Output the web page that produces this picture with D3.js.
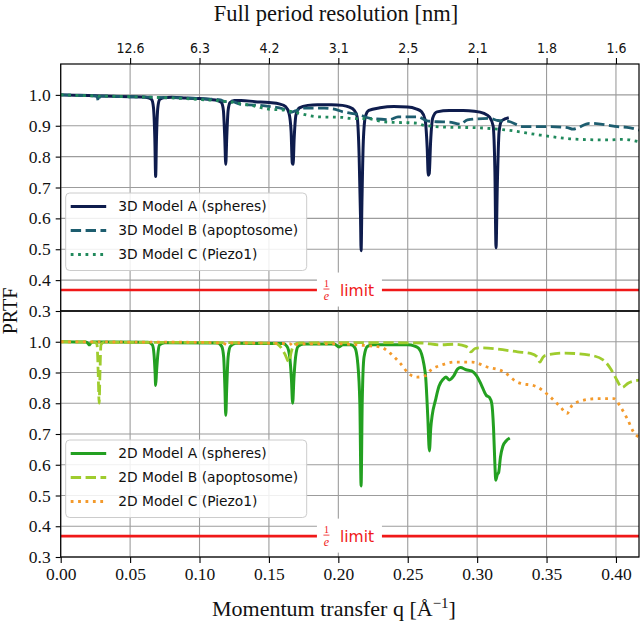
<!DOCTYPE html>
<html><head><meta charset="utf-8">
<script src="https://cdn.jsdelivr.net/npm/d3@7"></script>
<style>body{margin:0;background:#fff} svg{display:block}</style>
</head><body>
<svg id="c" width="640" height="625"></svg>
<script>
// ---------- data ----------
const xTicks = [0.00, 0.05, 0.10, 0.15, 0.20, 0.25, 0.30, 0.35, 0.40];
const xTickLabels = ["0.00","0.05","0.10","0.15","0.20","0.25","0.30","0.35","0.40"];
const topTicks = [0.05, 0.10, 0.15, 0.20, 0.25, 0.30, 0.35, 0.40];
const topTickLabels = ["12.6","6.3","4.2","3.1","2.5","2.1","1.8","1.6"];
const yTicks = [0.3, 0.4, 0.5, 0.6, 0.7, 0.8, 0.9, 1.0];
const yTickLabels = ["0.3","0.4","0.5","0.6","0.7","0.8","0.9","1.0"];
const xDomain = [0, 0.4166];
const yDomain = [0.3, 1.1];
const limitValue = 0.3679;   // 1/e
const names3D = ["3D Model A (spheres)", "3D Model B (apoptosome)", "3D Model C (Piezo1)"];
const names2D = ["2D Model A (spheres)", "2D Model B (apoptosome)", "2D Model C (Piezo1)"];

const q3A = [[0.000,1.000],[0.010,0.999],[0.020,0.998],[0.030,0.996],[0.040,0.995],[0.050,0.994],[0.058,0.993],[0.063,0.991],[0.0655,0.985],[0.0668,0.96],[0.0678,0.86],[0.0684,0.736],[0.0690,0.86],[0.0700,0.96],[0.0713,0.985],[0.074,0.991],[0.080,0.992],[0.090,0.990],[0.100,0.988],[0.108,0.985],[0.113,0.982],[0.1158,0.975],[0.1172,0.95],[0.1182,0.86],[0.1189,0.775],[0.1196,0.86],[0.1206,0.95],[0.1220,0.975],[0.125,0.982],[0.130,0.982],[0.140,0.978],[0.150,0.975],[0.158,0.970],[0.162,0.962],[0.1645,0.94],[0.1660,0.88],[0.1668,0.78],[0.1674,0.775],[0.1682,0.86],[0.1695,0.935],[0.172,0.958],[0.178,0.966],[0.185,0.968],[0.195,0.968],[0.203,0.966],[0.208,0.960],[0.2115,0.95],[0.2135,0.93],[0.2150,0.80],[0.2160,0.60],[0.2164,0.495],[0.2170,0.65],[0.2180,0.85],[0.2195,0.93],[0.222,0.950],[0.230,0.958],[0.240,0.962],[0.250,0.961],[0.256,0.955],[0.260,0.945],[0.2625,0.92],[0.2640,0.83],[0.2648,0.74],[0.2655,0.745],[0.2665,0.85],[0.2680,0.925],[0.271,0.945],[0.280,0.949],[0.290,0.949],[0.298,0.947],[0.305,0.940],[0.309,0.928],[0.3115,0.90],[0.3128,0.75],[0.3136,0.505],[0.3145,0.70],[0.3158,0.88],[0.3175,0.915],[0.320,0.922],[0.3228,0.926]];
const q3B = [[0.000,1.000],[0.015,0.998],[0.025,0.997],[0.0265,0.99],[0.0271,0.978],[0.0277,0.99],[0.029,0.996],[0.050,0.994],[0.080,0.991],[0.100,0.988],[0.115,0.984],[0.118,0.978],[0.122,0.980],[0.131,0.968],[0.140,0.967],[0.151,0.962],[0.160,0.955],[0.1655,0.943],[0.169,0.948],[0.175,0.957],[0.190,0.957],[0.196,0.955],[0.2035,0.945],[0.2157,0.935],[0.223,0.924],[0.237,0.920],[0.243,0.929],[0.257,0.929],[0.2640,0.916],[0.271,0.913],[0.280,0.912],[0.288,0.905],[0.293,0.919],[0.309,0.924],[0.315,0.917],[0.322,0.915],[0.333,0.897],[0.353,0.897],[0.365,0.894],[0.369,0.889],[0.381,0.908],[0.394,0.902],[0.401,0.897],[0.408,0.895],[0.4166,0.886]];
const q3C = [[0.000,1.000],[0.020,0.997],[0.050,0.994],[0.080,0.990],[0.100,0.985],[0.116,0.980],[0.136,0.967],[0.151,0.953],[0.160,0.951],[0.172,0.940],[0.185,0.929],[0.203,0.927],[0.208,0.924],[0.223,0.922],[0.232,0.913],[0.257,0.908],[0.261,0.902],[0.280,0.895],[0.297,0.894],[0.3216,0.886],[0.345,0.870],[0.362,0.860],[0.369,0.857],[0.394,0.854],[0.405,0.856],[0.4166,0.848]];

const q2A = [[0.000,1.000],[0.018,0.999],[0.0200,0.993],[0.0206,0.99],[0.0212,0.993],[0.023,0.999],[0.063,0.998],[0.0660,0.99],[0.0672,0.96],[0.0680,0.90],[0.0684,0.858],[0.0690,0.90],[0.0700,0.96],[0.0712,0.99],[0.075,0.997],[0.113,0.996],[0.1160,0.985],[0.1174,0.95],[0.1183,0.85],[0.1189,0.761],[0.1196,0.85],[0.1206,0.95],[0.1222,0.985],[0.126,0.995],[0.160,0.994],[0.163,0.985],[0.1650,0.95],[0.1662,0.88],[0.1671,0.80],[0.1680,0.88],[0.1692,0.95],[0.171,0.985],[0.175,0.993],[0.197,0.993],[0.2005,0.983],[0.203,0.99],[0.209,0.99],[0.212,0.98],[0.2140,0.93],[0.2155,0.80],[0.2164,0.531],[0.2172,0.80],[0.2185,0.95],[0.221,0.985],[0.225,0.99],[0.240,0.99],[0.250,0.99],[0.255,0.986],[0.258,0.978],[0.260,0.96],[0.2615,0.93],[0.2630,0.88],[0.2645,0.75],[0.2656,0.645],[0.2666,0.72],[0.2676,0.76],[0.270,0.81],[0.2725,0.855],[0.2755,0.878],[0.2775,0.885],[0.2800,0.876],[0.2830,0.888],[0.2860,0.912],[0.2880,0.916],[0.2920,0.909],[0.2960,0.905],[0.2995,0.89],[0.3030,0.86],[0.3065,0.826],[0.3090,0.818],[0.3105,0.80],[0.3118,0.72],[0.3128,0.60],[0.3134,0.55],[0.3145,0.568],[0.3155,0.575],[0.3168,0.625],[0.3185,0.66],[0.3210,0.678],[0.3235,0.687]];
const q2B = [[0.000,1.000],[0.020,0.999],[0.025,0.998],[0.0262,0.99],[0.0270,0.90],[0.0277,0.80],[0.0283,0.90],[0.0290,0.99],[0.031,0.998],[0.080,0.998],[0.120,0.997],[0.155,0.995],[0.158,0.985],[0.1615,0.96],[0.1645,0.934],[0.1660,0.965],[0.168,0.99],[0.172,0.996],[0.200,0.997],[0.230,0.997],[0.260,0.996],[0.273,0.99],[0.2845,0.992],[0.292,0.985],[0.2955,0.967],[0.2985,0.978],[0.302,0.98],[0.3148,0.976],[0.3292,0.967],[0.3385,0.962],[0.3435,0.95],[0.3452,0.934],[0.3475,0.95],[0.3493,0.956],[0.3625,0.963],[0.3817,0.956],[0.391,0.94],[0.3965,0.91],[0.4007,0.875],[0.4043,0.851],[0.409,0.866],[0.4166,0.875]];
const q2C = [[0.000,1.000],[0.050,0.999],[0.100,0.998],[0.117,0.995],[0.120,0.99],[0.123,0.996],[0.165,0.994],[0.168,0.985],[0.171,0.993],[0.200,0.993],[0.2183,0.988],[0.2303,0.983],[0.2375,0.962],[0.2448,0.929],[0.2508,0.896],[0.2568,0.885],[0.2628,0.89],[0.2664,0.907],[0.2736,0.923],[0.2844,0.934],[0.2964,0.934],[0.3072,0.918],[0.3192,0.902],[0.3288,0.869],[0.3432,0.853],[0.3528,0.82],[0.3600,0.788],[0.3648,0.767],[0.3684,0.793],[0.3768,0.81],[0.3864,0.815],[0.3985,0.815],[0.4033,0.788],[0.4081,0.75],[0.4133,0.702],[0.4166,0.69]];

// ---------- layout ----------
const svg = d3.select("#c");
const L = 60.7, R = 639;
const panels = [
  {top: 64, bot: 311, series: [q3A, q3B, q3C], names: names3D,
   colors: ["#0e1c4d", "#1d5d6f", "#20895c"], legendTop: 193},
  {top: 311, bot: 557, series: [q2A, q2B, q2C], names: names2D,
   colors: ["#23a021", "#9fcc2e", "#f39a2c"], legendTop: 440}
];
const styles = [
  {w: 3.0, dash: null},
  {w: 2.8, dash: "10.4,4.5"},
  {w: 2.8, dash: "2.8,4.6"}
];
const x = d3.scaleLinear().domain(xDomain).range([L, R]);
const serif = "'Liberation Serif','Times New Roman',serif";
const sans = "'DejaVu Sans',sans-serif";
const gridColor = "#9c9c9c";

svg.append("rect").attr("width", 640).attr("height", 625).attr("fill", "#fff");

panels.forEach((p, pi) => {
  const y = d3.scaleLinear().domain(yDomain).range([p.bot, p.top]);
  const g = svg.append("g");
  const clipId = "clip" + pi;
  svg.append("clipPath").attr("id", clipId).append("rect")
    .attr("x", L).attr("y", p.top).attr("width", R - L).attr("height", p.bot - p.top);

  // grid
  g.selectAll(".vg").data(xTicks).join("line")
    .attr("x1", d => x(d)).attr("x2", d => x(d)).attr("y1", p.top).attr("y2", p.bot)
    .attr("stroke", gridColor).attr("stroke-width", 1.1);
  g.selectAll(".hg").data(yTicks).join("line")
    .attr("x1", L).attr("x2", R).attr("y1", d => y(d)).attr("y2", d => y(d))
    .attr("stroke", gridColor).attr("stroke-width", 1.1);

  // 1/e line
  g.append("line").attr("x1", L).attr("x2", R)
    .attr("y1", y(limitValue)).attr("y2", y(limitValue))
    .attr("stroke", "#f01818").attr("stroke-width", 2.6);

  // curves
  const line = d3.line().x(d => x(d[0])).y(d => y(d[1])).curve(d3.curveMonotoneX);
  const cg = g.append("g").attr("clip-path", `url(#${clipId})`);
  p.series.forEach((s, si) => {
    cg.append("path").datum(s).attr("d", line)
      .attr("fill", "none").attr("stroke", p.colors[si])
      .attr("stroke-width", styles[si].w)
      .attr("stroke-dasharray", styles[si].dash)
      .attr("stroke-linejoin", "round");
  });

  // 1/e label with white box
  const lx = x(0.208), ly = y(limitValue);
  const lab = g.append("g").attr("transform", `translate(${lx},${ly})`);
  lab.append("rect").attr("x", -32.5).attr("y", -17.5).attr("width", 65).attr("height", 34).attr("fill", "#fff");
  lab.append("text").attr("x", -23).attr("y", -3).attr("text-anchor", "middle")
    .attr("font-family", serif).attr("font-size", 10).attr("fill", "#f01818").text("1");
  lab.append("line").attr("x1", -26).attr("x2", -20).attr("y1", -1).attr("y2", -1)
    .attr("stroke", "#f01818").attr("stroke-width", 0.8);
  lab.append("text").attr("x", -23).attr("y", 10).attr("text-anchor", "middle")
    .attr("font-family", serif).attr("font-style", "italic").attr("font-size", 12).attr("fill", "#f01818").text("e");
  lab.append("text").attr("x", -9.5).attr("y", 6).attr("font-family", sans)
    .attr("font-size", 15.5).attr("fill", "#f01818").text("limit");

  // legend
  const lg = svg.append("g").attr("transform", `translate(65.7,${p.legendTop})`);
  lg.append("rect").attr("width", 241).attr("height", 77.5).attr("rx", 4)
    .attr("fill", "#fff").attr("fill-opacity", 0.85).attr("stroke", "#cccccc").attr("stroke-width", 1);
  p.names.forEach((n, i) => {
    const yy = 13.5 + i * 24;
    lg.append("line").attr("x1", 5).attr("x2", 40.5).attr("y1", yy).attr("y2", yy)
      .attr("stroke", p.colors[i]).attr("stroke-width", styles[i].w)
      .attr("stroke-dasharray", styles[i].dash);
    lg.append("text").attr("x", 52.5).attr("y", yy).attr("dy", "0.36em")
      .attr("font-family", sans).attr("font-size", 13.8).attr("fill", "#111").text(n);
  });

  // y axis
  const ya = svg.append("g").attr("transform", `translate(${L},0)`)
    .call(d3.axisLeft(y).tickValues(yTicks).tickFormat((d, i) => yTickLabels[i]).tickSize(5).tickPadding(5));
  ya.select(".domain").remove();
  ya.selectAll("line").attr("stroke", "#000").attr("stroke-width", 1.1);
  ya.selectAll("text").attr("font-family", serif).attr("font-size", 17.5).attr("fill", "#111");

  // frame
  svg.append("rect").attr("x", L).attr("y", p.top).attr("width", R - L).attr("height", p.bot - p.top)
    .attr("fill", "none").attr("stroke", "#000").attr("stroke-width", 1.2);
});

// top axis
const ta = svg.append("g").attr("transform", "translate(0,64)")
  .call(d3.axisTop(x).tickValues(topTicks).tickFormat((d, i) => topTickLabels[i]).tickSize(6).tickPadding(5));
ta.select(".domain").remove();
ta.selectAll("line").attr("stroke", "#000").attr("stroke-width", 1.1);
ta.selectAll("text").attr("font-family", "'DejaVu Sans Condensed','DejaVu Sans',sans-serif")
  .attr("font-stretch", "condensed").attr("font-size", 14).attr("fill", "#111");

// bottom axis
const ba = svg.append("g").attr("transform", "translate(0,557)")
  .call(d3.axisBottom(x).tickValues(xTicks).tickFormat((d, i) => xTickLabels[i]).tickSize(6).tickPadding(5));
ba.select(".domain").remove();
ba.selectAll("line").attr("stroke", "#000").attr("stroke-width", 1.1);
ba.selectAll("text").attr("font-family", serif).attr("font-size", 17.5).attr("fill", "#111");

// labels
svg.append("text").attr("x", 336).attr("y", 21).attr("text-anchor", "middle")
  .attr("font-family", serif).attr("font-size", 22.5).attr("fill", "#111").text("Full period resolution [nm]");
const xl = svg.append("text").attr("x", 334).attr("y", 616).attr("text-anchor", "middle")
  .attr("font-family", serif).attr("font-size", 22).attr("fill", "#111");
xl.append("tspan").text("Momentum transfer q [Å");
xl.append("tspan").attr("dy", -8).attr("font-size", 15).text("−1");
xl.append("tspan").attr("dy", 8).text("]");
svg.append("text").attr("transform", "translate(17,311) rotate(-90)").attr("text-anchor", "middle")
  .attr("font-family", serif).attr("font-size", 20).attr("fill", "#111").text("PRTF");
</script>
</body></html>
